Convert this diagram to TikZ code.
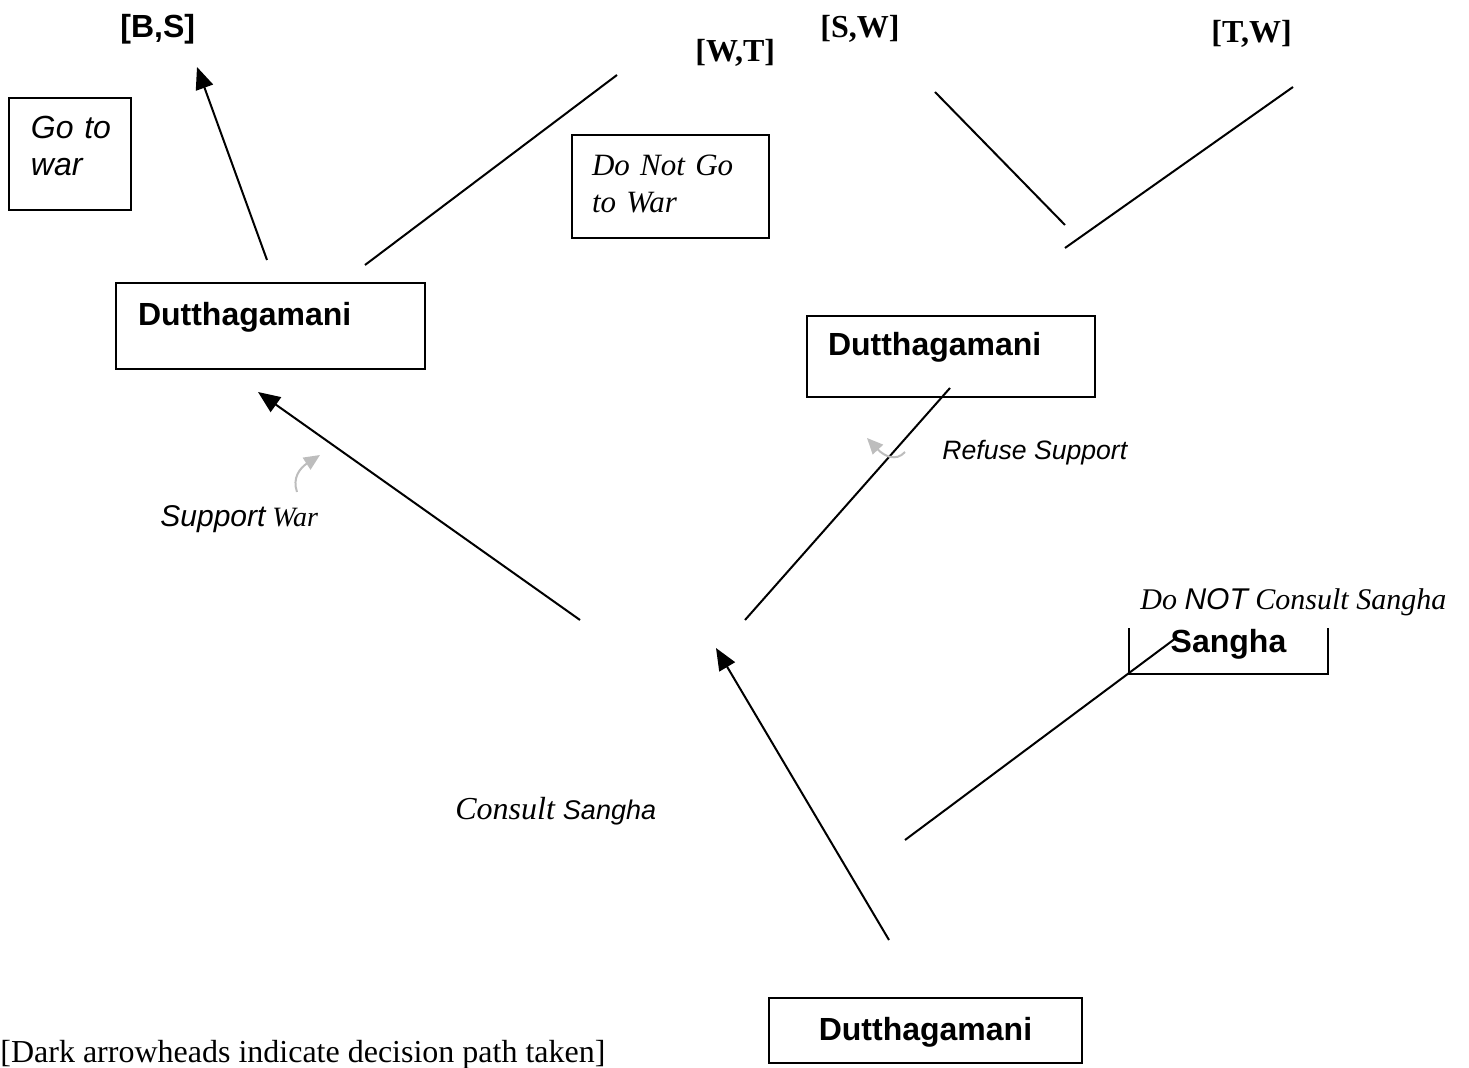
\documentclass[tikz,border=0pt]{standalone}
\usepackage{fontspec}
\setmainfont{Liberation Serif}
\setsansfont{Liberation Sans}
\usetikzlibrary{arrows.meta}
\definecolor{ink}{HTML}{000000}
\definecolor{hint}{HTML}{BDBDBD}
\tikzset{
  every node/.style={text=ink},
  box/.style={draw=ink, line width=1pt, inner ysep=0pt},
  player/.style={box, font=\sffamily\bfseries\fontsize{16}{19}\selectfont},
  choice/.style={box, font=\itshape\fontsize{15.5}{18.5}\selectfont, align=left},
  move/.style={inner sep=0pt, anchor=base west, font=\itshape\fontsize{16}{19}\selectfont},
  pay/.style={inner sep=0pt, anchor=base west, font=\bfseries\fontsize{16}{19}\selectfont},
  branch/.style={draw=ink, line width=1pt},
  chosen/.style={branch, -{Triangle[length=11pt,width=9pt]}},
  cue/.style={draw=hint, line width=1pt, -{Triangle[length=8pt,width=7pt]}},
}
\begin{document}
\begin{tikzpicture}[x=0.5pt, y=-0.5pt]
  \useasboundingbox (0,0) rectangle (1469,1068);

  % players
  \node[player, anchor=base west, inner xsep=11pt, text width=132.5pt, text height=21.5pt, text depth=21.5pt, align=left] (dl) at (115,326) {Dutthagamani};
  \node[player, anchor=base west, inner xsep=10.5pt, text width=123pt, text height=20pt, text depth=20.5pt, align=left] (dr) at (806,356) {Dutthagamani};
  \node[player, anchor=base west, inner xsep=5pt, text width=146.5pt, text height=21.5pt, text depth=11pt, align=center] (d0) at (768,1041) {Dutthagamani};
  \node[player, anchor=base west, inner xsep=5pt, text width=89.5pt, text height=18.5pt, text depth=10.5pt, align=center] (sg) at (1128,653) {Sangha};

  % choices in boxes
  \node[choice, anchor=base west, inner xsep=11pt, text width=39pt, text height=20.5pt, text depth=35.5pt, font=\sffamily\itshape\fontsize{16}{18.5}\selectfont] (war) at (8,139) {\mbox{Go to}\\war};
  \node[choice, anchor=base west, inner xsep=10pt, text width=78.5pt, text height=20.5pt, text depth=31pt] (nowar) at (571,176) {Do Not Go\\to War};

  % payoffs
  \node[pay, font=\sffamily\bfseries\fontsize{16}{19}\selectfont] (bs) at (120,38) {[B,S]};
  \node[pay] (wt) at (695,62) {[W,T]};
  \node[pay] (sw) at (820,38) {[S,W]};
  \node[pay] (tw) at (1211,43) {[T,W]};

  % move labels
  \node[move, fill=white, inner xsep=10pt, inner ysep=6pt, font=\itshape\fontsize{15}{17}\selectfont] (nc) at (1120,610) {Do {\sffamily NOT} Consult Sangha};
  \node[move] (cs) at (455,820) {Consult {\sffamily\fontsize{13.5}{17}\selectfont Sangha}};
  \node[move, font=\itshape\fontsize{14}{17}\selectfont] (sup) at (160,527) {{\sffamily\fontsize{15}{17}\selectfont Support} War};
  \node[move, font=\sffamily\itshape\fontsize{13.3}{16}\selectfont] (ref) at (942,460) {Refuse Support};
  \node[inner sep=0pt, anchor=base west, font=\fontsize{16}{19}\selectfont] (note) at (0,1063) {[Dark arrowheads indicate decision path taken]};

  % branch ends
  \coordinate (a0) at (889,940);  \coordinate (a1) at (716,648);
  \coordinate (n0) at (905,840);  \coordinate (n1) at (1176,638);
  \coordinate (s0) at (580,620);  \coordinate (s1) at (258,392);
  \coordinate (f0) at (745,620);  \coordinate (f1) at (950,388);
  \coordinate (g0) at (267,260);  \coordinate (g1) at (197,67);
  \coordinate (h0) at (365,265);  \coordinate (h1) at (617,75);
  \coordinate (k0) at (1065,225); \coordinate (k1) at (935,92);
  \coordinate (m0) at (1065,248); \coordinate (m1) at (1293,87);

  \draw[chosen] (a0) -- (a1);
  \draw[branch] (n0) -- (n1);
  \draw[chosen] (s0) -- (s1);
  \draw[branch] (f0) -- (f1);
  \draw[chosen] (g0) -- (g1);
  \draw[branch] (h0) -- (h1);
  \draw[branch] (k0) -- (k1);
  \draw[branch] (m0) -- (m1);

  % grey hints
  \coordinate (c0) at (297,492); \coordinate (c1) at (320,455);
  \coordinate (e0) at (905,452); \coordinate (e1) at (867,438);
  \draw[cue] (c0) .. controls (292,478) and (300,468) .. (c1);
  \draw[cue] (e0) .. controls (896,462) and (884,456) .. (e1);
\end{tikzpicture}
\end{document}
